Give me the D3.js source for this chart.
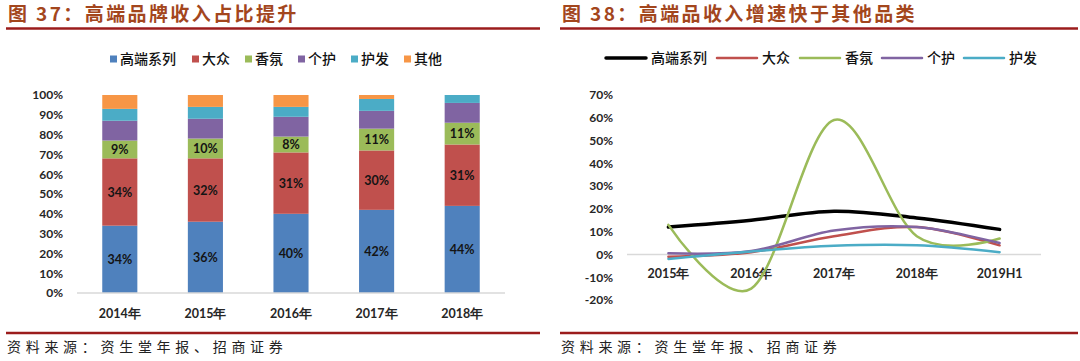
<!DOCTYPE html>
<html>
<head>
<meta charset="utf-8">
<script src="https://cdn.jsdelivr.net/npm/d3@7"></script>
<style>
  body { margin: 0; background: #fff; }
  svg { display: block; }
  .cn { font-family: "Noto Sans CJK SC", sans-serif; }
  .num { font-family: Lato, "Liberation Sans", sans-serif; font-weight: 700; }
</style>
</head>
<body>
<svg width="1080" height="361"></svg>
<script>
//data - left chart (share of revenue, %)
const years = ['2014年', '2015年', '2016年', '2017年', '2018年'];
const gaoduan = [34, 36, 40, 42, 44];
const dazhong = [34, 32, 31, 30, 31];
const xiangfen = [9, 10, 8, 11, 11];
const gehu = [10, 10, 10, 9, 10];
const hufa = [6, 6, 5, 6, 4];
const qita = [7, 6, 6, 2, 0];
const yTicksL = [0, 10, 20, 30, 40, 50, 60, 70, 80, 90, 100];

//data - right chart (growth, %)
const periods = ['2015年', '2016年', '2017年', '2018年', '2019H1'];
const gaoduanG = [12, 15, 19, 16, 11];
const dazhongG = [-1, 1, 8, 12, 4];
const xiangfenG = [13, -15, 59, 8, 7];
const gehuG = [0.5, 1.5, 10.5, 12, 5];
const hufaG = [-2, 1.3, 3.8, 4, 1];
const yTicksR = [-20, -10, 0, 10, 20, 30, 40, 50, 60, 70];

const names = ['高端系列', '大众', '香氛', '个护', '护发', '其他'];
const colors = ['#4f81bd', '#c0504d', '#9bbb59', '#8064a2', '#4bacc6', '#f79646'];
const lineColors = ['#000000', '#c0504d', '#9bbb59', '#8064a2', '#4bacc6'];

const svg = d3.select('svg');
svg.append('rect').attr('width', 1080).attr('height', 361).attr('fill', '#fff');

//titles and footers
function frame(x0, x1, title) {
  svg.append('text').attr('class', 'cn')
    .attr('x', x0 + 2).attr('y', 21)
    .style('font-size', '19px').style('font-weight', 700)
    .style('letter-spacing', '2.4px')
    .attr('fill', '#a3461d').text(title);
  svg.append('line').attr('x1', x0).attr('x2', x1).attr('y1', 28.5).attr('y2', 28.5)
    .attr('stroke', '#9b1c1c').attr('stroke-width', 2.5);
  svg.append('line').attr('x1', x0).attr('x2', x1).attr('y1', 333).attr('y2', 333)
    .attr('stroke', '#9b1c1c').attr('stroke-width', 2.5);
  svg.append('text').attr('class', 'cn')
    .attr('x', x0 + 1).attr('y', 352)
    .style('font-size', '14px').style('letter-spacing', '4.7px')
    .attr('fill', '#222').text('资料来源：资生堂年报、招商证券');
}
frame(6, 540, '图 37：高端品牌收入占比提升');
frame(560, 1078, '图 38：高端品收入增速快于其他品类');

//left: stacked bars
const seriesL = [gaoduan, dazhong, xiangfen, gehu, hufa, qita];
const rows = years.map((y, i) => {
  const r = { year: y };
  names.forEach((n, k) => r[n] = seriesL[k][i]);
  return r;
});
const stacked = d3.stack().keys(names)(rows);

const xL = d3.scaleBand().domain(years).range([77, 505]).paddingInner(0.59).paddingOuter(0.295);
const yL = d3.scaleLinear().domain([0, 100]).range([293, 95]);

svg.append('g').selectAll('text').data(yTicksL).join('text')
  .attr('class', 'num').attr('x', 63).attr('y', d => yL(d)).attr('dy', '0.36em')
  .attr('text-anchor', 'end').style('font-size', '12px').attr('fill', '#262626')
  .text(d => d + '%');

svg.append('g').selectAll('g').data(stacked).join('g')
  .attr('fill', (d, i) => colors[i])
  .selectAll('rect').data(d => d).join('rect')
  .attr('x', d => xL(d.data.year)).attr('width', xL.bandwidth())
  .attr('y', d => yL(d[1])).attr('height', d => yL(d[0]) - yL(d[1]));

svg.append('g').selectAll('g').data(stacked.slice(0, 3)).join('g')
  .selectAll('text').data(d => d).join('text')
  .attr('class', 'num')
  .attr('x', d => xL(d.data.year) + xL.bandwidth() / 2)
  .attr('y', d => yL((d[0] + d[1]) / 2)).attr('dy', '0.36em')
  .attr('text-anchor', 'middle').style('font-size', '12.5px').attr('fill', '#141414')
  .text(d => (d[1] - d[0]) + '%');

svg.append('line').attr('x1', 77).attr('x2', 505).attr('y1', yL(0)).attr('y2', yL(0))
  .attr('stroke', '#d9d9d9').attr('stroke-width', 1.5);

svg.append('g').selectAll('text').data(years).join('text')
  .attr('class', 'num').attr('x', d => xL(d) + xL.bandwidth() / 2).attr('y', 313)
  .attr('dy', '0.36em').attr('text-anchor', 'middle')
  .style('font-size', '12.5px').attr('fill', '#262626').text(d => d);

//left legend
const legL = svg.append('g').selectAll('g').data(names).join('g')
  .attr('transform', (d, i) => `translate(${[110, 192, 245, 298, 351, 404][i]},59)`);
legL.append('rect').attr('x', 0).attr('y', -3.5).attr('width', 7).attr('height', 7)
  .attr('fill', (d, i) => colors[i]);
legL.append('text').attr('class', 'cn').attr('x', 10).attr('dy', '0.36em')
  .style('font-size', '14px').style('font-weight', 500).attr('fill', '#111').text(d => d);

//right: smoothed lines
const seriesR = [gaoduanG, dazhongG, xiangfenG, gehuG, hufaG];
const xR = d3.scalePoint().domain(periods).range([627, 1041]).padding(0.5);
const yR = d3.scaleLinear().domain([-20, 70]).range([300, 95]);

svg.append('g').selectAll('text').data(yTicksR).join('text')
  .attr('class', 'num').attr('x', 613).attr('y', d => yR(d)).attr('dy', '0.36em')
  .attr('text-anchor', 'end').style('font-size', '12px').attr('fill', '#262626')
  .text(d => d + '%');

svg.append('line').attr('x1', 627).attr('x2', 1041).attr('y1', yR(0)).attr('y2', yR(0))
  .attr('stroke', '#d9d9d9').attr('stroke-width', 1.5);

svg.append('g').selectAll('text').data(periods).join('text')
  .attr('class', 'num').attr('x', d => xR(d)).attr('y', 273)
  .attr('dy', '0.36em').attr('text-anchor', 'middle')
  .style('font-size', '12.5px').attr('fill', '#262626').text(d => d);

const line = d3.line()
  .x((d, i) => xR(periods[i]))
  .y(d => yR(d))
  .curve(d3.curveCardinal.tension(0));

svg.append('g').selectAll('path').data(seriesR).join('path')
  .attr('d', line).attr('fill', 'none')
  .attr('stroke', (d, i) => lineColors[i])
  .attr('stroke-width', (d, i) => i === 0 ? 3.5 : 2.5)
  .attr('stroke-linecap', 'round');

//right legend
const legR = svg.append('g').selectAll('g').data(names.slice(0, 5)).join('g')
  .attr('transform', (d, i) => `translate(${[606, 717, 800, 882, 964][i]},58)`);
legR.append('line').attr('x1', 0).attr('x2', 40).attr('y1', 0).attr('y2', 0)
  .attr('stroke', (d, i) => lineColors[i]).attr('stroke-width', (d, i) => i === 0 ? 3.5 : 2.5)
  .attr('stroke-linecap', 'round');
legR.append('text').attr('class', 'cn').attr('x', 45)
  .attr('dy', '0.36em').style('font-size', '14px').style('font-weight', 500)
  .attr('fill', '#111').text(d => d);
</script>
</body>
</html>
